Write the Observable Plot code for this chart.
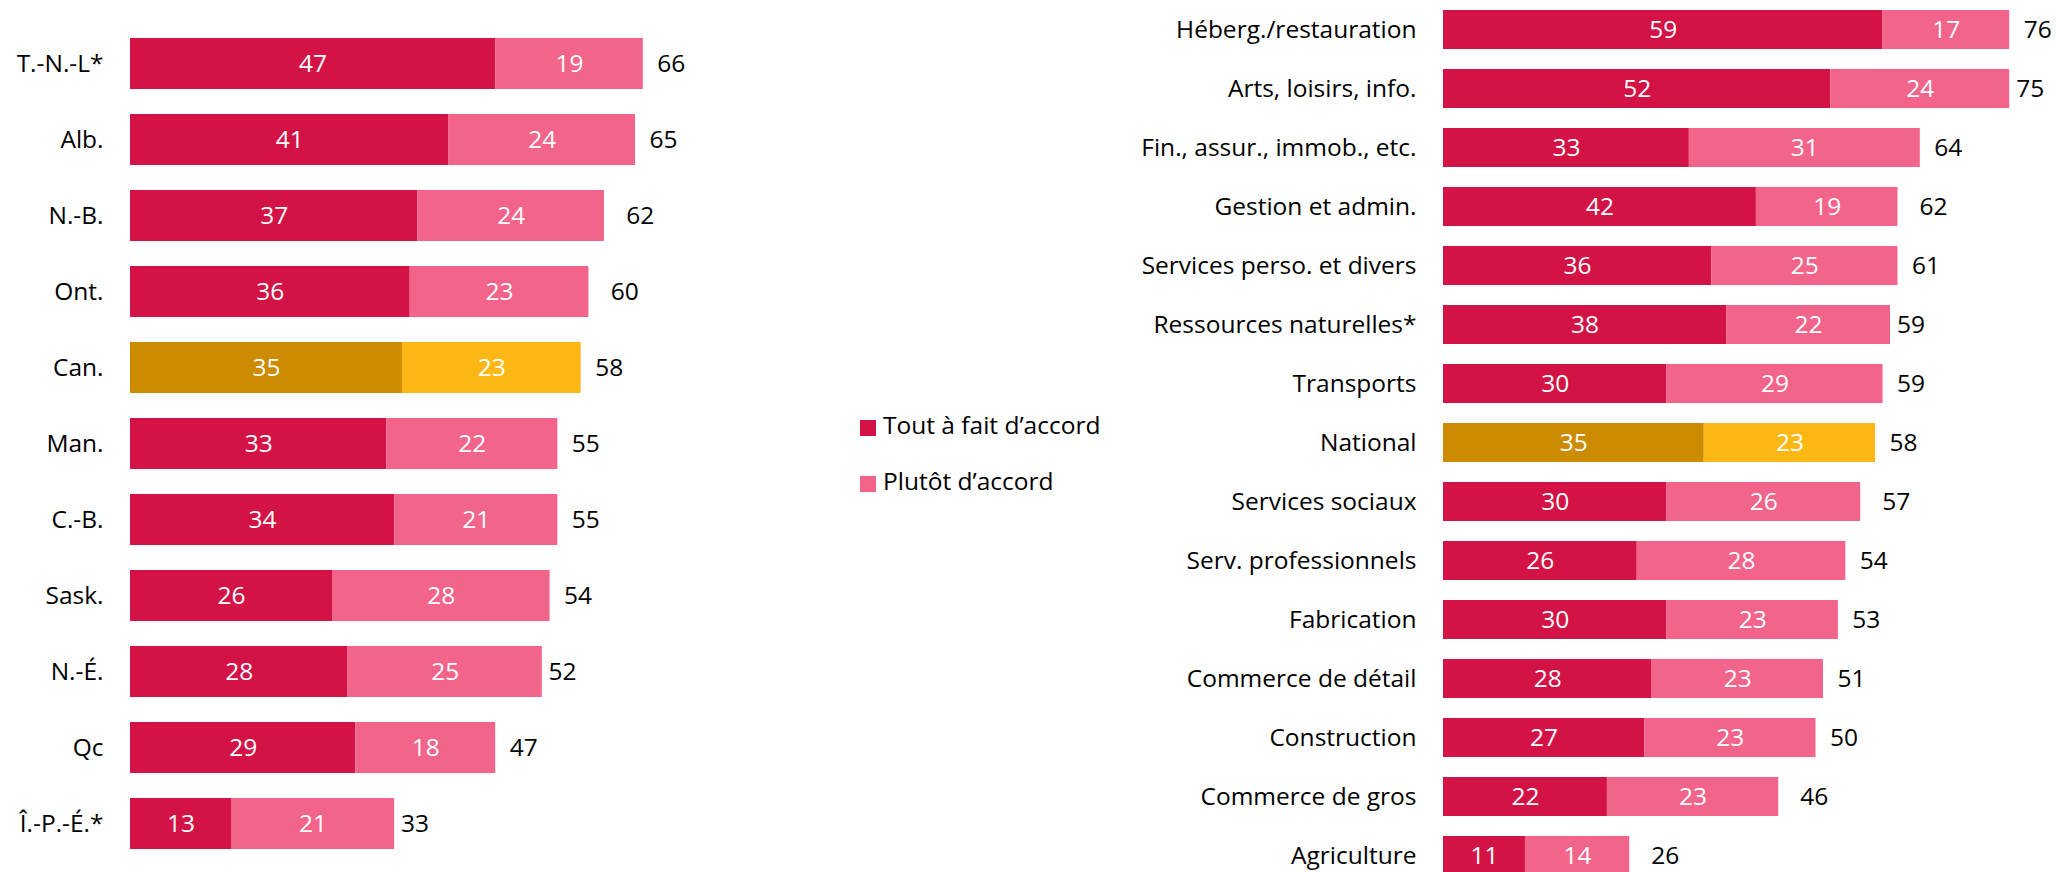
<!DOCTYPE html>
<html>
<head>
<meta charset="utf-8">
<script src="https://cdn.jsdelivr.net/npm/d3@7"></script>
<script src="https://cdn.jsdelivr.net/npm/@observablehq/plot@0.6"></script>
<style>
  html, body { margin: 0; padding: 0; background: #fff; width: 2056px; height: 872px; overflow: hidden; position: relative; font-family: "Open Sans", sans-serif; }
  #left { position: absolute; left: 0; top: 12.2px; }
  #right { position: absolute; left: 1130px; top: -11.5px; }
  .leg { position: absolute; left: 860px; font-size: 24.5px; color: #000; line-height: 1; white-space: nowrap; }
  .leg span.sw { position: absolute; left: 0; width: 16px; height: 16px; }
  .leg span.tx { position: absolute; left: 23px; top: -7px; }
</style>
</head>
<body>
<div id="left"></div>
<div id="right"></div>
<div id="legend"></div>
<script>
// ---- Data ----
const provinces = ["T.-N.-L*", "Alb.", "N.-B.", "Ont.", "Can.", "Man.", "C.-B.", "Sask.", "N.-É.", "Qc", "Î.-P.-É.*"];
const provStrong = [47, 41, 37, 36, 35, 33, 34, 26, 28, 29, 13];
const provSome   = [19, 24, 24, 23, 23, 22, 21, 28, 25, 18, 21];
const provTotal  = [66, 65, 62, 60, 58, 55, 55, 54, 52, 47, 33];
const provHighlight = "Can.";

const sectors = ["Héberg./restauration", "Arts, loisirs, info.", "Fin., assur., immob., etc.", "Gestion et admin.", "Services perso. et divers", "Ressources naturelles*", "Transports", "National", "Services sociaux", "Serv. professionnels", "Fabrication", "Commerce de détail", "Construction", "Commerce de gros", "Agriculture"];
const secStrong = [59, 52, 33, 42, 36, 38, 30, 35, 30, 26, 30, 28, 27, 22, 11];
const secSome   = [17, 24, 31, 19, 25, 22, 29, 23, 26, 28, 23, 23, 23, 23, 14];
const secTotal  = [76, 75, 64, 62, 61, 59, 59, 58, 57, 54, 53, 51, 50, 46, 26];
const secHighlight = "National";

const seriesNames = ["Tout à fait d’accord", "Plutôt d’accord"];
const colorKeys = ["strong", "some", "strongH", "someH"];
const colorValues = ["#D31245", "#F2648A", "#CC8B00", "#FDB714"];

// ---- Build tidy tables ----
function tidy(cats, strong, some, hl) {
  const rows = [];
  cats.forEach((c, i) => {
    const h = c === hl;
    rows.push({cat: c, value: strong[i], key: h ? "strongH" : "strong"});
    rows.push({cat: c, value: some[i], key: h ? "someH" : "some"});
  });
  return rows;
}
function totals(cats, tot) { return cats.map((c, i) => ({cat: c, total: tot[i]})); }

const FS = 24.5;

function chart({cats, rows, tots, width, height, marginLeft, xMax, pad}) {
  return Plot.plot({
    width, height,
    marginLeft, marginRight: 0, marginTop: 0, marginBottom: 0,
    style: {fontFamily: "Open Sans, sans-serif", fontSize: FS + "px", color: "#000", background: "transparent", overflow: "visible"},
    x: {domain: [0, xMax], axis: null},
    y: {domain: cats, padding: pad, label: null},
    color: {domain: colorKeys, range: colorValues},
    marks: [
      Plot.barX(rows, Plot.stackX({x: "value", y: "cat", fill: "key", order: null})),
      Plot.text(rows, Plot.stackX({x: "value", y: "cat", text: d => String(d.value), fill: "white", order: null, fontSize: FS})),
      Plot.text(tots, {x: "total", y: "cat", text: d => String(d.total), textAnchor: "start", dx: 14, fill: "#000", fontSize: FS}),
      Plot.axisY({tickSize: 0, tickPadding: 27, label: null, fontSize: FS, fill: "#000"})
    ]
  });
}

document.getElementById("left").append(chart({
  cats: provinces,
  rows: tidy(provinces, provStrong, provSome, provHighlight),
  tots: totals(provinces, provTotal),
  width: 780, height: 862, marginLeft: 130, xMax: 650 / 7.77, pad: 0.33
}));

document.getElementById("right").append(chart({
  cats: sectors,
  rows: tidy(sectors, secStrong, secSome, secHighlight),
  tots: totals(sectors, secTotal),
  width: 926, height: 908, marginLeft: 313, xMax: 613 / 7.45, pad: 0.335
}));

// ---- Legend ----
const legend = document.getElementById("legend");
seriesNames.forEach((name, i) => {
  const d = document.createElement("div");
  d.className = "leg";
  d.style.top = (420 + i * 56) + "px";
  const sw = document.createElement("span");
  sw.className = "sw";
  sw.style.background = colorValues[i];
  const tx = document.createElement("span");
  tx.className = "tx";
  tx.textContent = name;
  d.append(sw, tx);
  legend.append(d);
});
</script>
</body>
</html>
